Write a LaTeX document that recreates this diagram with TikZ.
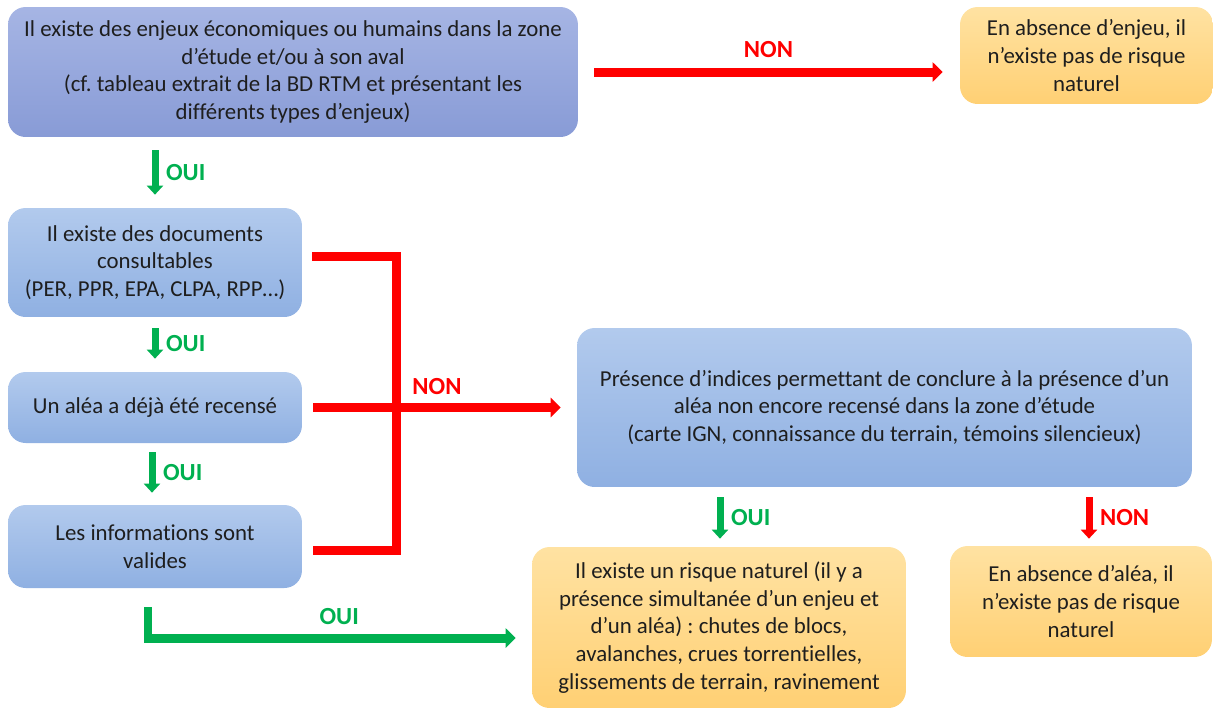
\documentclass[tikz,border=0pt]{standalone}
\usepackage{fontspec}
\setmainfont[Ligatures={NoCommon}]{Carlito}
\usetikzlibrary{arrows.meta,calc}
\definecolor{enjeutop}{RGB}{166,181,228}
\definecolor{enjeubot}{RGB}{136,155,214}
\definecolor{bluetop}{RGB}{178,202,237}
\definecolor{bluebot}{RGB}{143,176,226}
\definecolor{orangetop}{RGB}{255,226,162}
\definecolor{orangebot}{RGB}{255,208,116}
\definecolor{rednon}{RGB}{255,0,0}
\definecolor{greenoui}{RGB}{0,176,80}
\definecolor{textgrey}{RGB}{30,30,30}
\tikzset{
  basebox/.style={rounded corners=10pt, inner sep=0pt, align=center,
    text=textgrey, font=\fontsize{13}{15.8}\selectfont},
  enjeubox/.style={basebox, top color=enjeutop, bottom color=enjeubot},
  bluebox/.style={basebox, top color=bluetop, bottom color=bluebot},
  orangebox/.style={basebox, top color=orangetop, bottom color=orangebot},
  nonline/.style={draw=rednon, line width=0.18cm},
  nonflow/.style={nonline, -{Triangle[length=0.2cm,width=0.38cm]}},
  ouiflow/.style={draw=greenoui, line width=0.18cm, -{Triangle[length=0.2cm,width=0.38cm]}},
  ouishort/.style={draw=greenoui, line width=0.14cm, -{Triangle[length=0.18cm,width=0.32cm]}},
  nonshort/.style={draw=rednon, line width=0.14cm, -{Triangle[length=0.18cm,width=0.32cm]}},
  ouilabel/.style={text=greenoui, font=\fontsize{14}{16}\bfseries},
  nonlabel/.style={text=rednon, font=\fontsize{14}{16}\bfseries}
}
\frenchspacing

\begin{document}
\begin{tikzpicture}[x=0.02cm, y=-0.02cm]
\useasboundingbox (0,0) rectangle (1215,711);

% boxes
\node[enjeubox, minimum width=11.4cm, minimum height=2.6cm] (enjeux) at (293,72)
  {Il existe des enjeux économiques ou humains dans la zone\\d’étude et/ou à son aval\\(cf. tableau extrait de la BD RTM et présentant les\\différents types d’enjeux)};
\node[orangebox, minimum width=5.06cm, minimum height=1.94cm] (sansenjeu) at (1086.5,55.5)
  {En absence d’enjeu, il\\n’existe pas de risque\\naturel};
\node[bluebox, minimum width=5.88cm, minimum height=2.18cm] (docs) at (155,262.5)
  {Il existe des documents\\consultables\\(PER, PPR, EPA, CLPA, RPP…)};
\node[bluebox, minimum width=5.88cm, minimum height=1.42cm] (alea) at (155,407.5)
  {Un aléa a déjà été recensé};
\node[bluebox, minimum width=5.88cm, minimum height=1.66cm] (valides) at (155,546.5)
  {Les informations sont\\valides};
\node[bluebox, minimum width=12.3cm, minimum height=3.18cm] (indices) at (884.5,407.5)
  {Présence d’indices permettant de conclure à la présence d’un\\aléa non encore recensé dans la zone d’étude\\(carte IGN, connaissance du terrain, témoins silencieux)};
\node[orangebox, minimum width=7.48cm, minimum height=3.22cm] (risque) at (719,627.5)
  {Il existe un risque naturel (il y a\\présence simultanée d’un enjeu et\\d’un aléa) : chutes de blocs,\\avalanches, crues torrentielles,\\glissements de terrain, ravinement};
\node[orangebox, minimum width=5.24cm, minimum height=2.22cm] (sansalea) at (1081,601.5)
  {En absence d’aléa, il\\n’existe pas de risque\\naturel};

% pas d'enjeu
\draw[nonflow] ($(enjeux.east)+(16,0)$) -- ($(enjeux.east -| sansenjeu.west)+(-17,0)$)
  node[nonlabel, midway, yshift=0.44cm] {NON};

% chain of OUI on the left
\draw[ouishort] ($(enjeux.south -| docs.north)+(0,13)$) -- ($(docs.north)+(0,-13)$)
  node[ouilabel, midway, right=1pt] {OUI};
\draw[ouishort] ($(docs.south)+(0,11)$) -- ($(alea.north)+(0,-13)$)
  node[ouilabel, midway, right=1pt] {OUI};
\draw[ouishort] ($(alea.south)+(-3,9)$) -- ($(valides.north)+(-3,-12)$)
  node[ouilabel, midway, right=1pt] {OUI};

% NON bracket towards the indices
\coordinate (jonction) at ($(alea.east)+(94,0)$);
\draw[nonline] ($(docs.east)+(10,-6)$) -| (jonction) |- ($(valides.east)+(11,4)$);
\draw[nonflow] ($(alea.east)+(11,0)$) -- ($(indices.west)+(-16,0)$)
  node[nonlabel, midway, yshift=0.42cm] {NON};

% information valid -> risk
\draw[ouiflow] ($(valides.south)+(-7,19)$) |- ($(risque.west)+(-16,10.5)$)
  node[ouilabel, pos=0.76, yshift=0.42cm] {OUI};

% outcome of the indices
\draw[ouishort] ($(indices.south -| risque.north)+(1,10)$) -- ($(risque.north)+(1,-8)$)
  node[ouilabel, midway, right=1pt] {OUI};
\draw[nonshort] ($(indices.south -| sansalea.north)+(8,10)$) -- ($(sansalea.north)+(8,-7)$)
  node[nonlabel, midway, right=1pt] {NON};
\end{tikzpicture}
\end{document}
